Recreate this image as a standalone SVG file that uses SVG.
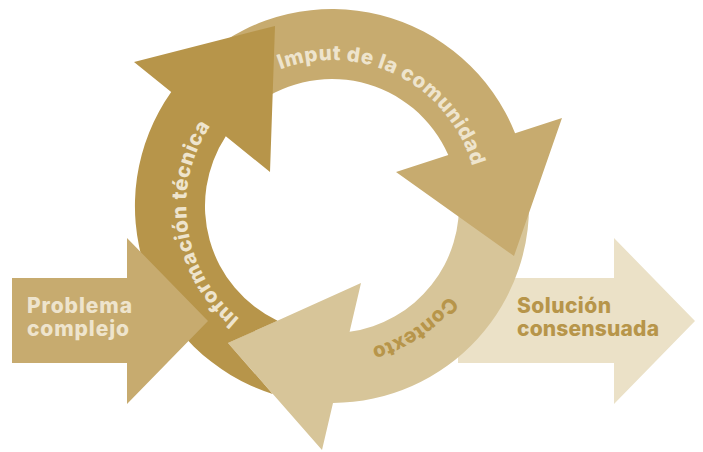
<svg xmlns="http://www.w3.org/2000/svg" width="703" height="452" viewBox="0 0 703 452">
<style>
.lbl{font-family:Inter,"Open Sans","Liberation Sans",sans-serif;font-weight:800;}
.cream{fill:#EEE4CD;}
.gold{fill:#B7954A;}
.dark{fill:#B7954A;}
.mid{fill:#C7AB6F;}
.light{fill:#D7C599;}
.pale{fill:#EBE1C7;}
</style>
<defs>
<path id="arcImput" d="M192.2,163.8 A146,146 0 1 1 448.9,293.5"/>
<path id="arcInfo" d="M378.3,344.5 A146,146 0 1 1 335.8,60.0"/>
<path id="arcCont" d="M437.7,103.9 A147,147 0 1 1 197.7,265.8"/>
</defs>
<rect width="703" height="452" fill="#FFFFFF"/>
<g id="node-solucion">
<polygon class="pale" points="458,278 614,278 614,238 695,321 614,404 614,363 458,363"/>
<text class="lbl gold" font-size="21"><tspan x="517" y="313" textLength="94" lengthAdjust="spacing">Solución</tspan><tspan x="517" y="336" textLength="142" lengthAdjust="spacing">consensuada</tspan></text>
</g>
<g id="cycle">
<g id="node-contexto">
<path class="light" d="M528.3,188.8 A197,197 0 0 1 333.0,403.0 L322,450 L228,343 L361,283 L349.6,331.8 A127,127 0 0 0 458.5,194.9 Z"/>
</g>
<g id="node-imput">
<path class="mid" d="M205.4,55.1 A197,197 0 0 1 515.1,133.3 L562,118 L514,256 L396,172 L448.3,155.0 A127,127 0 0 0 250.4,108.7 Z"/>
</g>
<g id="node-informacion">
<path class="dark" d="M272.7,393.9 A197,197 0 0 1 171.2,92.1 L134,62 L275,26 L270,172 L225.8,136.3 A127,127 0 0 0 277.5,320.7 L228,343 Z"/>
</g>
</g>
<g id="node-problema">
<polygon class="mid" points="12,278 127,278 127,238 208,321 127,404 127,363 12,363"/>
<text class="lbl cream" font-size="21"><tspan x="27" y="313" textLength="105" lengthAdjust="spacing">Problema</tspan><tspan x="27" y="336" textLength="102" lengthAdjust="spacing">complejo</tspan></text>
</g>
<g id="cycle-labels">
<text class="lbl cream" font-size="20.5" letter-spacing="0.6"><textPath href="#arcImput" startOffset="50%" text-anchor="middle">Imput de la comunidad</textPath></text>
<text class="lbl cream" font-size="20.5" letter-spacing="0.6"><textPath href="#arcInfo" startOffset="50%" text-anchor="middle">Información técnica</textPath></text>
<text class="lbl gold" font-size="20.5" letter-spacing="0.2"><textPath href="#arcCont" startOffset="50%" text-anchor="middle">Contexto</textPath></text>
</g>
</svg>
